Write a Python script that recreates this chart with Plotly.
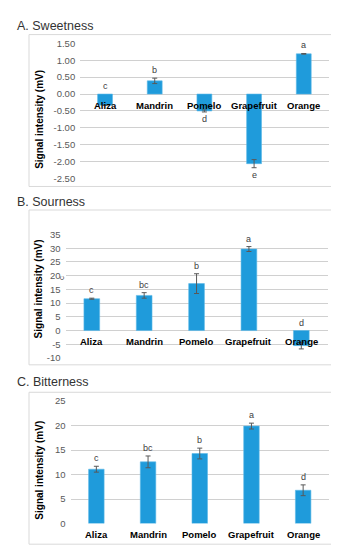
import plotly.graph_objects as go

W, H = 339, 550

categories = ["Aliza", "Mandrin", "Pomelo", "Grapefruit", "Orange"]

sweet_vals = [-0.33, 0.39, -0.50, -2.06, 1.19]
sweet_err = [0.0, 0.08, 0.03, 0.12, 0.01]
sweet_letters = ["c", "b", "d", "e", "a"]
sweet_above = [True, True, False, False, True]

sour_vals = [11.6, 12.8, 17.1, 29.7, -5.5]
sour_err = [0.2, 1.0, 3.6, 0.9, 1.2]
sour_letters = ["c", "bc", "b", "a", "d"]
sour_above = [True, True, True, True, True]

bitter_vals = [11.1, 12.6, 14.3, 19.9, 6.8]
bitter_err = [0.6, 1.2, 1.1, 0.6, 1.1]
bitter_letters = ["c", "bc", "b", "a", "d"]
bitter_above = [True, True, True, True, True]

sweet_ticks = [1.5, 1.0, 0.5, 0.0, -0.5, -1.0, -1.5, -2.0, -2.5]
sweet_ticktext = ["1.50", "1.00", "0.50", "0.00", "-0.50", "-1.00", "-1.50", "-2.00", "-2.50"]
sour_ticks = [35, 30, 25, 20, 15, 10, 5, 0, -5, -10]
bitter_ticks = [25, 20, 15, 10, 5, 0]

titles = ["A. Sweetness", "B. Sourness", "C. Bitterness"]
ytitle = "Signal intensity (mV)"

BAR = "#1F9BDB"
ERR = "#595959"
GRID = "#D0D0D0"
BOX = "#D9D9D9"
FONT = "Arial, Liberation Sans, sans-serif"


def px_x(p):
    return p / W


def px_y(p):
    return 1 - p / H


panels = [
    dict(vals=sweet_vals, err=sweet_err, letters=sweet_letters, above=sweet_above,
         rng=[-2.5, 1.5], tickvals=sweet_ticks, ticktext=sweet_ticktext,
         xd=[72.2, 320.6], yd=[167.9, 29.95], box=[21, 21, 330, 176],
         title_y=12, ytitle_x=32, ytitle_y=108),
    dict(vals=sour_vals, err=sour_err, letters=sour_letters, above=sour_above,
         rng=[-10, 35], tickvals=sour_ticks, ticktext=[str(v) for v in sour_ticks],
         xd=[57.6, 319.5], yd=[351, 225], box=[21, 200, 330, 358],
         title_y=192, ytitle_x=30, ytitle_y=281),
    dict(vals=bitter_vals, err=bitter_err, letters=bitter_letters, above=bitter_above,
         rng=[0, 25], tickvals=bitter_ticks, ticktext=[str(v) for v in bitter_ticks],
         xd=[62.5, 321], yd=[520, 395], box=[21, 386, 330, 541],
         title_y=376, ytitle_x=32, ytitle_y=466),
]

fig = go.Figure()
annotations = []
shapes = []
layout = {}

for i, p in enumerate(panels):
    n = "" if i == 0 else str(i + 1)
    xa, ya = "x" + n, "y" + n
    fig.add_trace(go.Bar(
        x=categories, y=p["vals"], xaxis=xa, yaxis=ya,
        marker=dict(color=BAR, line=dict(color="#5DB9E8", width=0.6)),
        error_y=dict(type="data", array=p["err"], visible=True,
                     color=ERR, thickness=1, width=2.5),
        showlegend=False, hoverinfo="skip",
    ))
    layout["xaxis" + n] = dict(
        domain=[px_x(p["xd"][0]), px_x(p["xd"][1])], anchor=ya,
        showticklabels=False, showgrid=False, zeroline=False, showline=False,
        categoryorder="array", categoryarray=categories, fixedrange=True,
    )
    layout["yaxis" + n] = dict(
        domain=[px_y(p["yd"][0]), px_y(p["yd"][1])], anchor=xa,
        range=p["rng"], tickvals=p["tickvals"], ticktext=p["ticktext"],
        showgrid=True, gridcolor=GRID, gridwidth=1, zeroline=False, showline=False,
        ticks="", ticklabelstandoff=4,
        tickfont=dict(family=FONT, size=9.5, color="#595959"), fixedrange=True,
    )
    for c in categories:
        annotations.append(dict(
            x=c, y=0, xref=xa, yref=ya, text="<b>%s</b>" % c, showarrow=False,
            yanchor="middle", yshift=-11,
            font=dict(family=FONT, size=9.5, color="#000000"),
        ))
    for c, v, e, L, ab in zip(categories, p["vals"], p["err"], p["letters"], p["above"]):
        if ab:
            base = max(v + e, 0)
            ys = 8
        else:
            base = v - e
            ys = -7
        annotations.append(dict(
            x=c, y=base, xref=xa, yref=ya, text=L, showarrow=False,
            yanchor="middle", yshift=ys,
            font=dict(family=FONT, size=9, color="#404040"),
        ))
    annotations.append(dict(
        x=px_x(7), y=px_y(p["title_y"]), xref="paper", yref="paper",
        text=titles[i], showarrow=False, xanchor="left", yanchor="middle",
        font=dict(family=FONT, size=12.5, color="#333333"),
    ))
    annotations.append(dict(
        x=px_x(p["ytitle_x"]), y=px_y(p["ytitle_y"]), xref="paper", yref="paper",
        text="<b>%s</b>" % ytitle, showarrow=False, textangle=-90,
        xanchor="center", yanchor="middle",
        font=dict(family=FONT, size=10, color="#000000"),
    ))
    b = p["box"]
    shapes.append(dict(
        type="rect", xref="paper", yref="paper",
        x0=px_x(b[0]), x1=px_x(b[2]), y0=px_y(b[3]), y1=px_y(b[1]),
        line=dict(color=BOX, width=1), fillcolor="rgba(0,0,0,0)", layer="below",
    ))

annotations.append(dict(
    x=px_x(47), y=px_y(270), xref="paper", yref="paper", text="c",
    showarrow=False, textangle=-90, font=dict(family=FONT, size=8, color="#404040"),
))

fig.update_layout(
    width=W, height=H, margin=dict(l=0, r=0, t=0, b=0),
    paper_bgcolor="white", plot_bgcolor="white",
    bargap=0.7, annotations=annotations, shapes=shapes,
    **layout,
)

fig.write_html("out.html", config={"displayModeBar": False})
